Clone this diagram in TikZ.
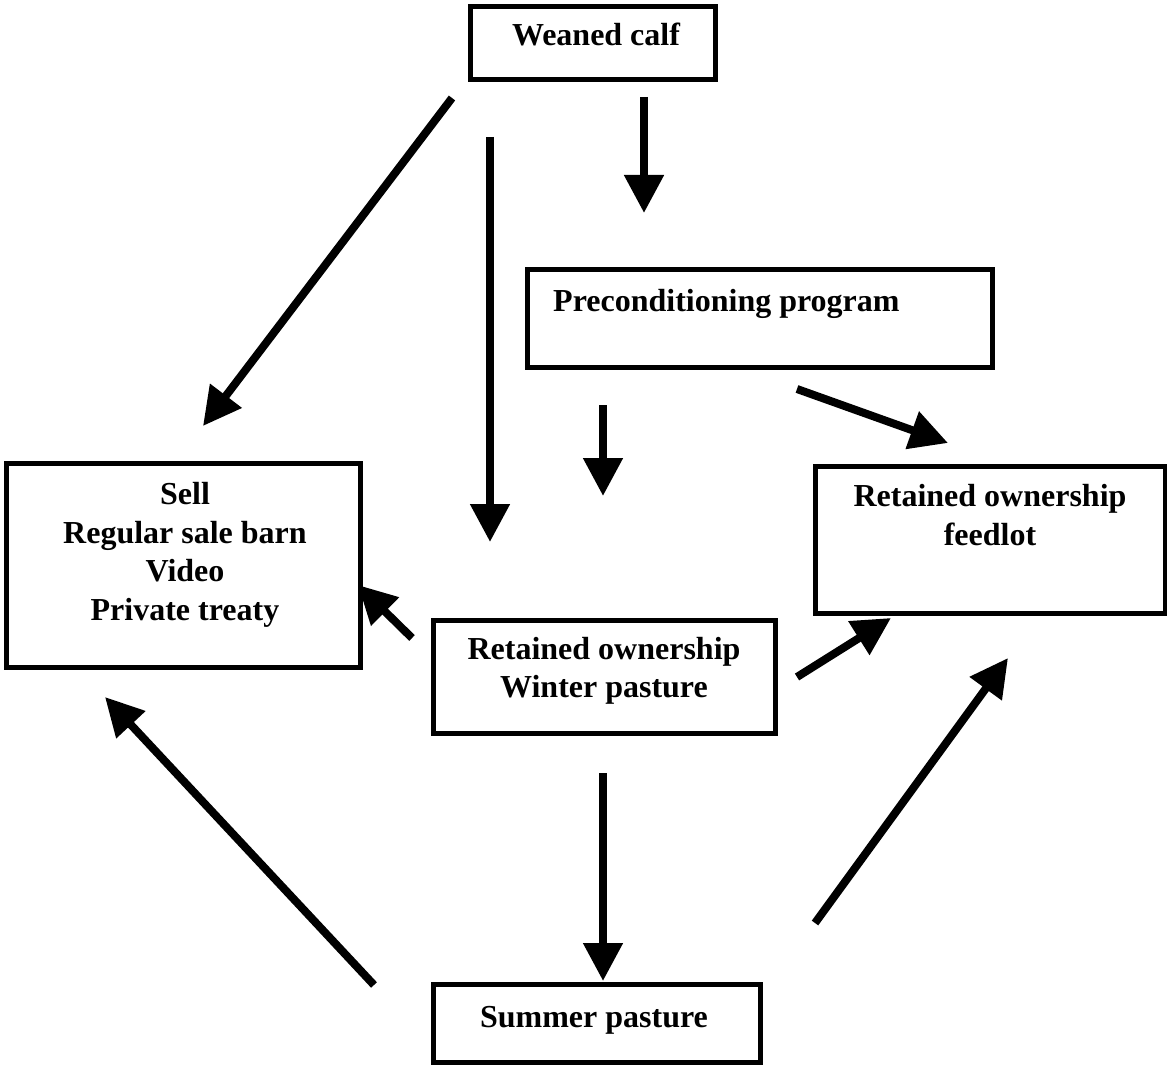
\documentclass[tikz,border=0pt]{standalone}
\usepackage{fontspec}
\setmainfont{Liberation Serif}
\usetikzlibrary{arrows.meta}
\begin{document}
\begin{tikzpicture}[x=1pt,y=-1pt,
  box/.style={draw=black,line width=5pt,rectangle,inner sep=0pt},
  lbl/.style={font=\bfseries\fontsize{32}{38.5}\selectfont,align=center,inner sep=0pt,anchor=base},
  flow/.style={line width=8pt,-{Triangle[length=38pt,width=38pt]}}]
\useasboundingbox (0,0) rectangle (1167,1067);
\fill[white] (0,0) rectangle (1167,1067);
% boxes
\node[box,minimum width=245pt,minimum height=73pt] (calf) at (592.5,43.5) {};
\node[box,minimum width=465pt,minimum height=97pt] (pre) at (759.5,318.5) {};
\node[box,minimum width=354pt,minimum height=204pt] (sell) at (183,565) {};
\node[box,minimum width=350pt,minimum height=147pt] (feed) at (990,540) {};
\node[box,minimum width=342pt,minimum height=113pt] (winter) at (604,676.5) {};
\node[box,minimum width=327pt,minimum height=78pt] (summer) at (596.5,1023) {};
% texts (base anchor = baseline of the last line)
\node[lbl] (calfT) at (596,46) {Weaned calf};
\node[lbl,anchor=base west] (preT) at (553,312) {Preconditioning program};
\node[lbl] (sellT) at (185,620) {Sell\\Regular sale barn\\Video\\Private treaty};
\node[lbl] (feedT) at (990,545) {Retained ownership\\feedlot};
\node[lbl] (winterT) at (604,697.5) {Retained ownership\\Winter pasture};
\node[lbl] (summerT) at (594,1027) {Summer pasture};
% connector end points
\coordinate (a1s) at (452,98);   \coordinate (a1e) at (203,426);
\coordinate (a2s) at (490,137);  \coordinate (a2e) at (490,542);
\coordinate (a3s) at (644,97);   \coordinate (a3e) at (644,213);
\coordinate (a4s) at (797,389);  \coordinate (a4e) at (948,443);
\coordinate (a5s) at (603,405);  \coordinate (a5e) at (603,496);
\coordinate (a6s) at (412,638);  \coordinate (a6e) at (358,585);
\coordinate (a7s) at (797,677);  \coordinate (a7e) at (891,618);
\coordinate (a8s) at (603,773);  \coordinate (a8e) at (603,981);
\coordinate (a9s) at (374,985);  \coordinate (a9e) at (105,697);
\coordinate (a10s) at (815,923); \coordinate (a10e) at (1008,658);
% connectors
\draw[flow] (a1s) -- (a1e);
\draw[flow] (a2s) -- (a2e);
\draw[flow] (a3s) -- (a3e);
\draw[flow] (a4s) -- (a4e);
\draw[flow] (a5s) -- (a5e);
\draw[flow] (a6s) -- (a6e);
\draw[flow] (a7s) -- (a7e);
\draw[flow] (a8s) -- (a8e);
\draw[flow] (a9s) -- (a9e);
\draw[flow] (a10s) -- (a10e);
\end{tikzpicture}
\end{document}
